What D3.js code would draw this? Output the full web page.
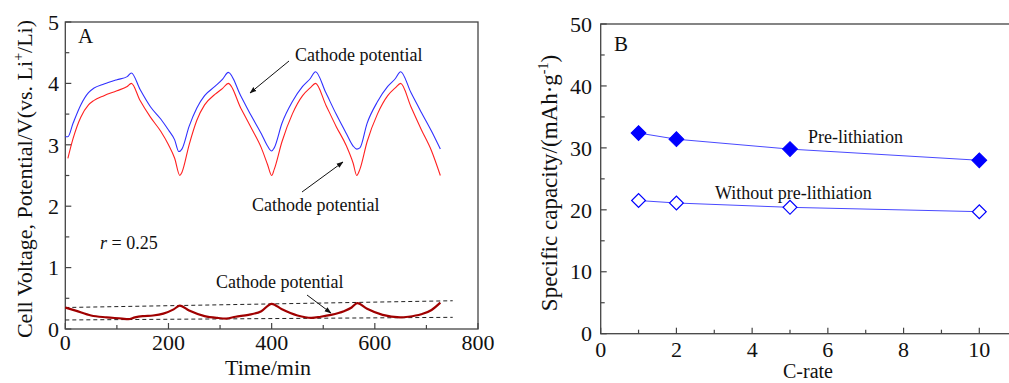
<!DOCTYPE html>
<html>
<head>
<meta charset="utf-8">
<script src="https://cdn.jsdelivr.net/npm/d3@7"></script>
<style>
  body { margin: 0; background: #fff; }
  svg text { font-family: "Liberation Serif", "Times New Roman", serif; fill: #111; }
</style>
</head>
<body>
<svg id="chart" width="1009" height="383"></svg>
<script>
// ---- panel A data (time in min, potential in V) ----
const blueT = [0, 5, 15, 30, 45, 55, 75, 100, 120, 128, 145, 165, 185, 200, 212, 220, 226, 240, 255, 270, 290, 305, 316, 340, 360, 380, 392, 400, 405, 420, 440, 460, 475, 485, 505, 525, 545, 558, 565, 571, 585, 605, 625, 640, 650, 670, 690, 710, 727]
const blueV = [3.13, 3.13, 3.35, 3.65, 3.85, 3.92, 3.99, 4.06, 4.11, 4.17, 3.9, 3.62, 3.42, 3.24, 3.08, 2.89, 2.93, 3.3, 3.6, 3.8, 3.95, 4.07, 4.18, 3.8, 3.48, 3.18, 2.98, 2.9, 2.95, 3.35, 3.7, 3.95, 4.08, 4.19, 3.85, 3.5, 3.18, 2.98, 2.93, 2.95, 3.35, 3.7, 3.95, 4.08, 4.19, 3.85, 3.53, 3.22, 2.93]
const redT = [5, 15, 30, 45, 55, 75, 100, 120, 128, 145, 165, 185, 200, 212, 222, 226, 240, 255, 270, 290, 305, 316, 340, 360, 380, 392, 400, 405, 420, 440, 460, 475, 485, 505, 525, 545, 558, 565, 571, 585, 605, 625, 640, 650, 670, 690, 710, 727]
const redV = [2.78, 3.1, 3.45, 3.65, 3.72, 3.8, 3.88, 3.95, 4.0, 3.72, 3.45, 3.22, 3.0, 2.78, 2.5, 2.55, 3.0, 3.4, 3.65, 3.82, 3.92, 4.0, 3.6, 3.28, 2.95, 2.68, 2.5, 2.6, 3.05, 3.5, 3.8, 3.93, 4.0, 3.65, 3.3, 2.98, 2.7, 2.5, 2.6, 3.05, 3.5, 3.8, 3.93, 4.0, 3.62, 3.25, 2.9, 2.5]
const diffT = [0, 20, 50, 80, 110, 122, 135, 150, 170, 190, 210, 222, 240, 270, 295, 312, 330, 355, 380, 400, 420, 450, 477, 495, 515, 540, 555, 566, 585, 615, 649, 665, 690, 710, 727]
const diffV = [0.35, 0.3, 0.22, 0.19, 0.17, 0.16, 0.19, 0.21, 0.22, 0.25, 0.32, 0.38, 0.3, 0.21, 0.18, 0.17, 0.2, 0.23, 0.29, 0.41, 0.32, 0.22, 0.18, 0.2, 0.23, 0.29, 0.35, 0.42, 0.33, 0.23, 0.19, 0.2, 0.24, 0.31, 0.43]
const dashUpper = [[0, 0.35], [751, 0.46]]
const dashLower = [[0, 0.147], [751, 0.19]]
const xTicksA = [0, 200, 400, 600, 800]
const yTicksA = [0, 1, 2, 3, 4, 5]

// ---- panel B data ----
const cRate = [1, 2, 5, 10]
const preLith = [32.4, 31.4, 29.8, 28.0]
const noPreLith = [21.5, 21.1, 20.4, 19.7]
const xTicksB = [0, 2, 4, 6, 8, 10]
const yTicksB = [0, 10, 20, 30, 40, 50]

const svg = d3.select("#chart")
const axisColor = "#444"

// arrow marker
svg.append("defs").append("marker")
    .attr("id", "arrow")
    .attr("viewBox", "0 0 10 10")
    .attr("refX", 9).attr("refY", 5)
    .attr("markerWidth", 7).attr("markerHeight", 7)
    .attr("orient", "auto")
    .append("path")
    .attr("d", "M0,1.5 L10,5 L0,8.5 z")
    .style("fill", "#111")

function frame(g, x, y, width) {
    g.append("rect")
        .attr("x", x.range()[0]).attr("y", y.range()[1])
        .attr("width", width).attr("height", y.range()[0] - y.range()[1])
        .style("fill", "none").style("stroke", axisColor).style("stroke-width", 1.3)
}

// ================= Panel A =================
const xA = d3.scaleLinear().domain([0, 800]).range([65.3, 478])
const yA = d3.scaleLinear().domain([0, 5]).range([329, 22])
const gA = svg.append("g")

frame(gA, xA, yA, 478 - 65.3)

// x ticks (major + minor), pointing inward
d3.range(0, 801, 100).forEach(function (t) {
    let len = t % 200 === 0 ? 6 : 4
    gA.append("line")
        .attr("x1", xA(t)).attr("x2", xA(t))
        .attr("y1", yA(0)).attr("y2", yA(0) - len)
        .style("stroke", axisColor).style("stroke-width", 1.2)
})
d3.range(0, 5.01, 0.5).forEach(function (v) {
    let len = Math.abs(v - Math.round(v)) < 1e-6 ? 6 : 4
    gA.append("line")
        .attr("x1", xA(0)).attr("x2", xA(0) + len)
        .attr("y1", yA(v)).attr("y2", yA(v))
        .style("stroke", axisColor).style("stroke-width", 1.2)
})
gA.selectAll(".xlabA").data(xTicksA).enter().append("text")
    .attr("x", d => xA(d)).attr("y", 350)
    .attr("text-anchor", "middle")
    .style("font-size", "22px")
    .text(d => d)
gA.selectAll(".ylabA").data(yTicksA).enter().append("text")
    .attr("x", 59).attr("y", d => yA(d)).attr("dy", "0.35em")
    .attr("text-anchor", "end")
    .style("font-size", "22px")
    .text(d => d)

// dashed guide lines
const lineA = d3.line().x(d => xA(d[0])).y(d => yA(d[1]))
;[dashUpper, dashLower].forEach(function (seg) {
    gA.append("path").attr("d", lineA(seg))
        .style("fill", "none").style("stroke", "#222")
        .style("stroke-width", 1).style("stroke-dasharray", "4,3")
})

// curves
const curve = d3.line().x(d => xA(d[0])).y(d => yA(d[1])).curve(d3.curveMonotoneX)
gA.append("path").attr("d", curve(d3.zip(blueT, blueV)))
    .style("fill", "none").style("stroke", "#3030ff").style("stroke-width", 1.1)
gA.append("path").attr("d", curve(d3.zip(redT, redV)))
    .style("fill", "none").style("stroke", "#ff2020").style("stroke-width", 1.1)
gA.append("path").attr("d", curve(d3.zip(diffT, diffV)))
    .style("fill", "none").style("stroke", "#a00000").style("stroke-width", 2.2)

// annotations
function note(text, x, y) {
    gA.append("text").attr("x", x).attr("y", y).style("font-size", "18px").text(text)
}
function arrow(x1, y1, x2, y2) {
    gA.append("line")
        .attr("x1", x1).attr("y1", y1).attr("x2", x2).attr("y2", y2)
        .attr("marker-end", "url(#arrow)")
        .style("stroke", "#111").style("stroke-width", 1)
}
note("Cathode potential", 295, 61)
arrow(289, 61, 250, 93)
note("Cathode potential", 252, 211)
arrow(302, 192, 343, 162)
note("Cathode potential", 216, 288)
arrow(307, 295, 331, 313)

gA.append("text").attr("x", 78).attr("y", 43).style("font-size", "21px").text("A")
let rTxt = gA.append("text").attr("x", 100).attr("y", 249).style("font-size", "18px")
rTxt.append("tspan").style("font-style", "italic").text("r")
rTxt.append("tspan").text(" = 0.25")

gA.append("text")
    .attr("x", 268).attr("y", 375)
    .attr("text-anchor", "middle")
    .style("font-size", "22px")
    .text("Time/min")

let yTitleA = gA.append("text")
    .attr("transform", "translate(32,179) rotate(-90)")
    .attr("text-anchor", "middle")
    .style("font-size", "22px")
yTitleA.append("tspan").text("Cell Voltage, Potential/V(vs. Li")
yTitleA.append("tspan").attr("dy", -9).style("font-size", "14px").text("+")
yTitleA.append("tspan").attr("dy", 9).text("/Li)")

// ================= Panel B =================
const xB = d3.scaleLinear().domain([0, 10]).range([600.7, 979.3])
const yB = d3.scaleLinear().domain([0, 50]).range([333.7, 24])
const gB = svg.append("g")

frame(gB, xB, yB, 430)

d3.range(0, 11, 1).forEach(function (t) {
    let len = t % 2 === 0 ? 6 : 4
    gB.append("line")
        .attr("x1", xB(t)).attr("x2", xB(t))
        .attr("y1", yB(0)).attr("y2", yB(0) - len)
        .style("stroke", axisColor).style("stroke-width", 1.2)
})
d3.range(0, 51, 5).forEach(function (v) {
    let len = v % 10 === 0 ? 6 : 4
    gB.append("line")
        .attr("x1", xB(0)).attr("x2", xB(0) + len)
        .attr("y1", yB(v)).attr("y2", yB(v))
        .style("stroke", axisColor).style("stroke-width", 1.2)
})
gB.selectAll(".xlabB").data(xTicksB).enter().append("text")
    .attr("x", d => xB(d)).attr("y", 357)
    .attr("text-anchor", "middle")
    .style("font-size", "22px")
    .text(d => d)
gB.selectAll(".ylabB").data(yTicksB).enter().append("text")
    .attr("x", 592).attr("y", d => yB(d)).attr("dy", "0.35em")
    .attr("text-anchor", "end")
    .style("font-size", "22px")
    .text(d => d)

const lineB = d3.line().x(d => xB(d[0])).y(d => yB(d[1]))
gB.append("path").attr("d", lineB(d3.zip(cRate, preLith)))
    .style("fill", "none").style("stroke", "#4a4aff").style("stroke-width", 1)
gB.append("path").attr("d", lineB(d3.zip(cRate, noPreLith)))
    .style("fill", "none").style("stroke", "#4a4aff").style("stroke-width", 1)

gB.selectAll(".preMark").data(d3.zip(cRate, preLith)).enter().append("path")
    .attr("d", d3.symbol().type(d3.symbolSquare).size(110))
    .attr("transform", d => "translate(" + xB(d[0]) + "," + yB(d[1]) + ") rotate(45)")
    .style("fill", "#0000ff").style("stroke", "#0000ff").style("stroke-width", 1)
gB.selectAll(".noMark").data(d3.zip(cRate, noPreLith)).enter().append("path")
    .attr("d", d3.symbol().type(d3.symbolSquare).size(95))
    .attr("transform", d => "translate(" + xB(d[0]) + "," + yB(d[1]) + ") rotate(45)")
    .style("fill", "#fff").style("stroke", "#0000ff").style("stroke-width", 1.2)

gB.append("text").attr("x", 808).attr("y", 143).style("font-size", "18px").text("Pre-lithiation")
gB.append("text").attr("x", 715).attr("y", 199).style("font-size", "18px").text("Without pre-lithiation")
gB.append("text").attr("x", 614).attr("y", 51).style("font-size", "21px").text("B")

gB.append("text")
    .attr("x", 808).attr("y", 378)
    .attr("text-anchor", "middle")
    .style("font-size", "20px")
    .text("C-rate")

let yTitleB = gB.append("text")
    .attr("transform", "translate(557,183) rotate(-90)")
    .attr("text-anchor", "middle")
    .style("font-size", "23px")
yTitleB.append("tspan").text("Specific capacity/(mAh\u00b7g")
yTitleB.append("tspan").attr("dy", -9).style("font-size", "14px").text("-1")
yTitleB.append("tspan").attr("dy", 9).text(")")
</script>
</body>
</html>
